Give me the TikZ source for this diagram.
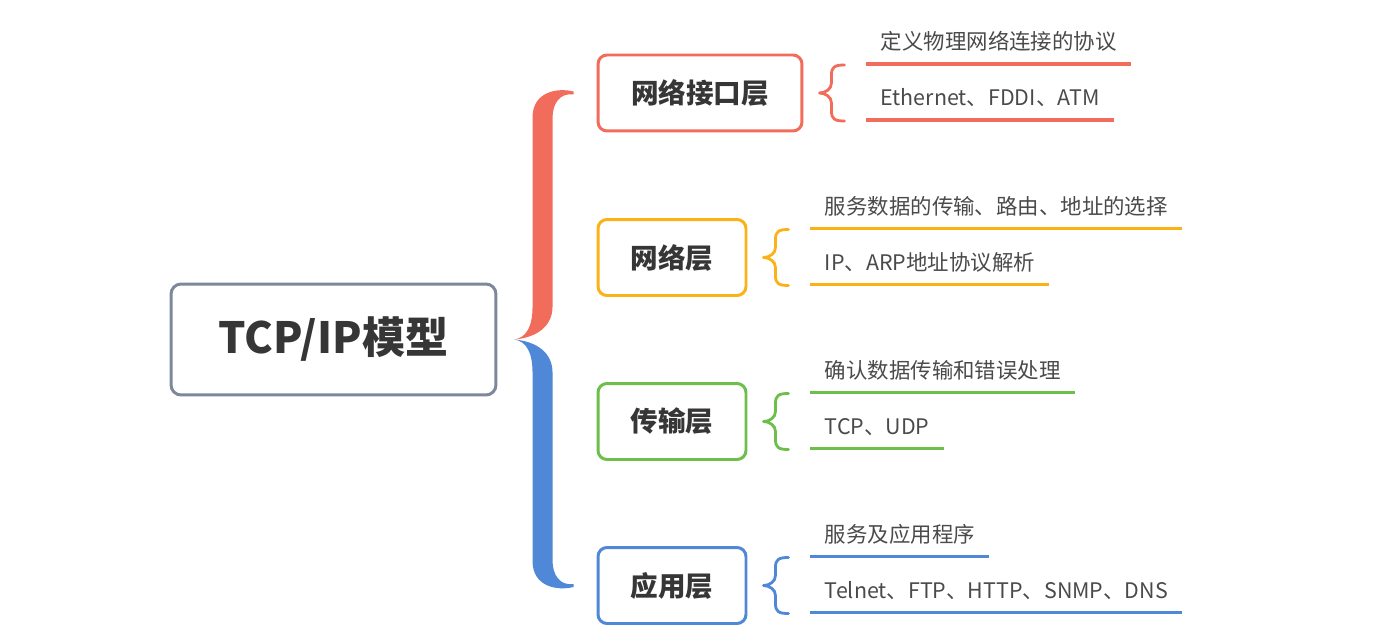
\documentclass[tikz,border=0pt]{standalone}
\usepackage{fontspec}
\setmainfont{Noto Sans CJK SC}
\usepackage{xcolor}
\usepackage{tikz}
\usetikzlibrary{calc}

\definecolor{redc}{HTML}{F26C5B}
\definecolor{orangec}{HTML}{FBB217}
\definecolor{greenc}{HTML}{6CBF4A}
\definecolor{bluec}{HTML}{4F88D6}
\definecolor{rootc}{HTML}{7D889B}
\definecolor{darkc}{HTML}{363636}
\definecolor{leafc}{HTML}{4A4A4A}

\begin{document}
\begin{tikzpicture}[x=0.02cm, y=-0.02cm,
  rootbox/.style={draw=rootc, line width=1.7pt, rounded corners=0.2cm, fill=white, minimum width=6.5cm, minimum height=2.22cm, font=\fontsize{24.5}{29}\selectfont\bfseries, text=darkc},
  layer/.style={draw=#1, line width=1.7pt, rounded corners=0.18cm, minimum width=2.96cm, minimum height=1.52cm, font=\fontsize{15.7}{18}\selectfont\bfseries, text=darkc},
  leaf/.style={anchor=south west, inner xsep=0.28cm, inner ysep=0pt, text depth=0.28cm, font=\fontsize{12.2}{14}\selectfont, text=leafc},
  uline/.style={draw=#1, line width=2.2pt},
  smallbrace/.style={draw=#1, line width=1.6pt, line cap=round, line join=round},
]
  \useasboundingbox (0,0) rectangle (1400,642);

  % Root and layers
  \node[rootbox] (root) at (333.5,339.5) {TCP/IP模型};
  \node[layer=redc, minimum width=4.08cm] (l1) at (700,93) {网络接口层};
  \node[layer=orangec] (l2) at (672,257.5) {网络层};
  \node[layer=greenc] (l3) at (672,421.5) {传输层};
  \node[layer=bluec] (l4) at (672,585.5) {应用层};

  % Big brace
  \coordinate (tip) at ($(root.east)+(17,0)$);
  \coordinate (top) at ($(l1.west)+(-23,0)$);
  \coordinate (bot) at ($(l4.west)+(-23,0)$);
  \fill[redc] ($(top)+(0,-1.5)$)
    .. controls +(-16,-4) and +(0,-26) .. ++(-41,26)
    -- ($(top |- tip)+(-41,-33)$)
    .. controls +(0,20) and +(12,-2) .. (tip)
    .. controls +(22,-2) and +(0,20) .. ($(top |- tip)+(-21,-33)$)
    -- ($(top)+(-21,25)$)
    .. controls +(0,-14) and +(-14,-2) .. ($(top)+(0,1.5)$)
    -- cycle;
  \fill[bluec] ($(bot)+(0,1.5)$)
    .. controls +(-16,4) and +(0,26) .. ++(-41,-26)
    -- ($(bot |- tip)+(-41,33)$)
    .. controls +(0,-20) and +(12,2) .. (tip)
    .. controls +(22,2) and +(0,-20) .. ($(bot |- tip)+(-21,33)$)
    -- ($(bot)+(-21,-25)$)
    .. controls +(0,14) and +(-14,2) .. ($(bot)+(0,-1.5)$)
    -- cycle;

  % Small braces
  \foreach \n/\c in {l1/redc, l2/orangec, l3/greenc, l4/bluec}
    \draw[smallbrace=\c] ($(\n.east)+(41,-28)$)
      .. controls +(-10,0) and +(0,-8) .. ++(-13,10) -- ++(0,8)
      .. controls +(0,6) and +(6,0) .. ++(-12,10)
      .. controls +(6,0) and +(0,-6) .. ++(12,10) -- ++(0,8)
      .. controls +(0,8) and +(-10,0) .. ++(13,10);

  % Leaves
  \node[leaf] (a1) at ($(l1.east)+(63,-29)$) {定义物理网络连接的协议};
  \node[leaf] (a2) at ($(l1.east)+(63,27)$) {Ethernet、FDDI、ATM};
  \node[leaf] (b1) at ($(l2.east)+(63,-29)$) {服务数据的传输、路由、地址的选择};
  \node[leaf] (b2) at ($(l2.east)+(63,27)$) {IP、ARP地址协议解析};
  \node[leaf] (c1) at ($(l3.east)+(63,-29)$) {确认数据传输和错误处理};
  \node[leaf] (c2) at ($(l3.east)+(63,27)$) {TCP、UDP};
  \node[leaf] (d1) at ($(l4.east)+(63,-29)$) {服务及应用程序};
  \node[leaf] (d2) at ($(l4.east)+(63,27)$) {Telnet、FTP、HTTP、SNMP、DNS};

  \foreach \a/\c in {a1/redc, a2/redc, b1/orangec, b2/orangec, c1/greenc, c2/greenc, d1/bluec, d2/bluec}
    \draw[uline=\c] (\a.south west) -- (\a.south east);

\end{tikzpicture}
\end{document}
